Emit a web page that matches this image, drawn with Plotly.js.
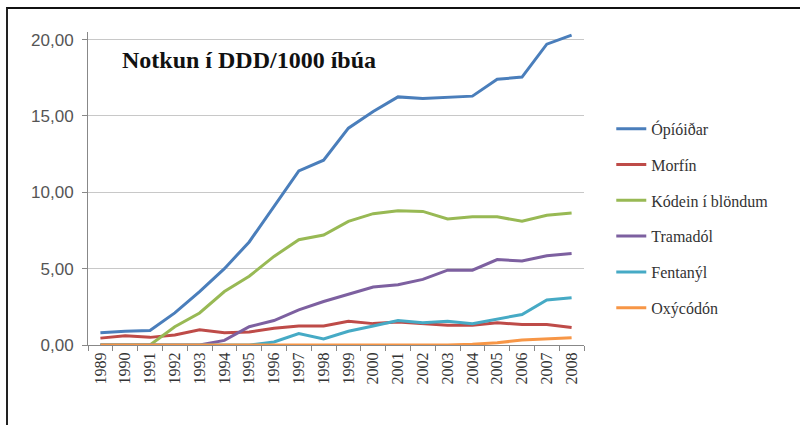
<!DOCTYPE html>
<html>
<head>
<meta charset="utf-8">
<script src="https://cdn.plot.ly/plotly-3.0.1.min.js"></script>
<style>
html,body{margin:0;padding:0;background:#fff;}
#wrap{position:relative;width:800px;height:425px;overflow:hidden;}
#chart{width:800px;height:425px;}
#frame{position:absolute;left:6px;top:7px;width:800px;height:430px;border-top:2px solid #111;border-left:2px solid #222;pointer-events:none;}
</style>
</head>
<body>
<div id="wrap">
<div id="chart"></div>
<div id="frame"></div>
</div>
<script>
const years = ["1989","1990","1991","1992","1993","1994","1995","1996","1997","1998","1999","2000","2001","2002","2003","2004","2005","2006","2007","2008"];
const opioidar = [0.8,0.9,0.95,2.1,3.5,5.0,6.75,9.1,11.4,12.1,14.2,15.3,16.25,16.15,16.2,16.3,17.4,17.55,19.7,20.3];
const morfin   = [0.45,0.6,0.5,0.65,1.0,0.8,0.85,1.1,1.25,1.25,1.55,1.4,1.5,1.4,1.3,1.3,1.45,1.35,1.35,1.15];
const kodein   = [0,0,0,1.2,2.1,3.5,4.5,5.8,6.9,7.2,8.1,8.6,8.8,8.75,8.25,8.4,8.4,8.1,8.5,8.65];
const tramadol = [0,0,0,0,0,0.3,1.2,1.6,2.3,2.85,3.3,3.8,3.95,4.3,4.9,4.9,5.6,5.5,5.85,6.0];
const fentanyl = [0,0,0,0,0,0,0,0.2,0.75,0.4,0.9,1.25,1.6,1.45,1.55,1.4,1.7,2.0,2.95,3.1];
const oxycodon = [0,0,0,0,0,0,0,0,0,0,0,0,0,0,0,0.05,0.15,0.32,0.4,0.48];

const names  = ["Ópíóiðar","Morfín","Kódein í blöndum","Tramadól","Fentanýl","Oxýcódón"];
const series = [opioidar, morfin, kodein, tramadol, fentanyl, oxycodon];
const colors = ["#4a7ebb","#be4b48","#98b954","#7d60a0","#46aac5","#f79646"];

const traces = series.map((s,i)=>({
  x: years, y: s, name: names[i], type: "scatter", mode: "lines",
  line: {color: colors[i], width: 3},
  legendgroup: "g"+i
}));

const layout = {
  width: 800, height: 425,
  margin: {l: 88, r: 216, t: 32, b: 80},
  paper_bgcolor: "#fff", plot_bgcolor: "#fff",
  separators: ", ",
  showlegend: true,
  legend: {
    x: 1.055, xanchor: "left", y: 0.745, yanchor: "top",
    font: {family: "Liberation Serif, Times New Roman, serif", size: 16, color: "#333"},
    tracegroupgap: 12, bgcolor: "rgba(0,0,0,0)"
  },
  xaxis: {
    type: "category", range: [-0.5, 19.5],
    showline: true, linecolor: "#888", linewidth: 1,
    ticks: "outside", ticklen: 5, tickcolor: "#888", tickson: "boundaries",
    tickangle: -90, showgrid: false, zeroline: false,
    tickfont: {family: "Liberation Serif, Times New Roman, serif", size: 16, color: "#333"}
  },
  yaxis: {
    range: [0, 20.5], tickvals: [0,5,10,15,20], tickformat: ".2f",
    showline: true, linecolor: "#888", linewidth: 1,
    ticks: "outside", ticklen: 5, tickcolor: "#888", ticklabelstandoff: 5,
    showgrid: true, gridcolor: "#c8c8c8", gridwidth: 1, zeroline: false,
    tickfont: {family: "Liberation Sans, Arial, sans-serif", size: 17, color: "#555"}
  },
  annotations: [{
    text: "<b>Notkun í DDD/1000 íbúa</b>", xref: "paper", yref: "paper",
    x: 0.064, y: 0.912, xanchor: "left", yanchor: "middle", showarrow: false,
    font: {family: "Liberation Serif, Times New Roman, serif", size: 24, color: "#111"}
  }]
};

Plotly.newPlot("chart", traces, layout, {displayModeBar: false, staticPlot: true});
</script>
</body>
</html>
